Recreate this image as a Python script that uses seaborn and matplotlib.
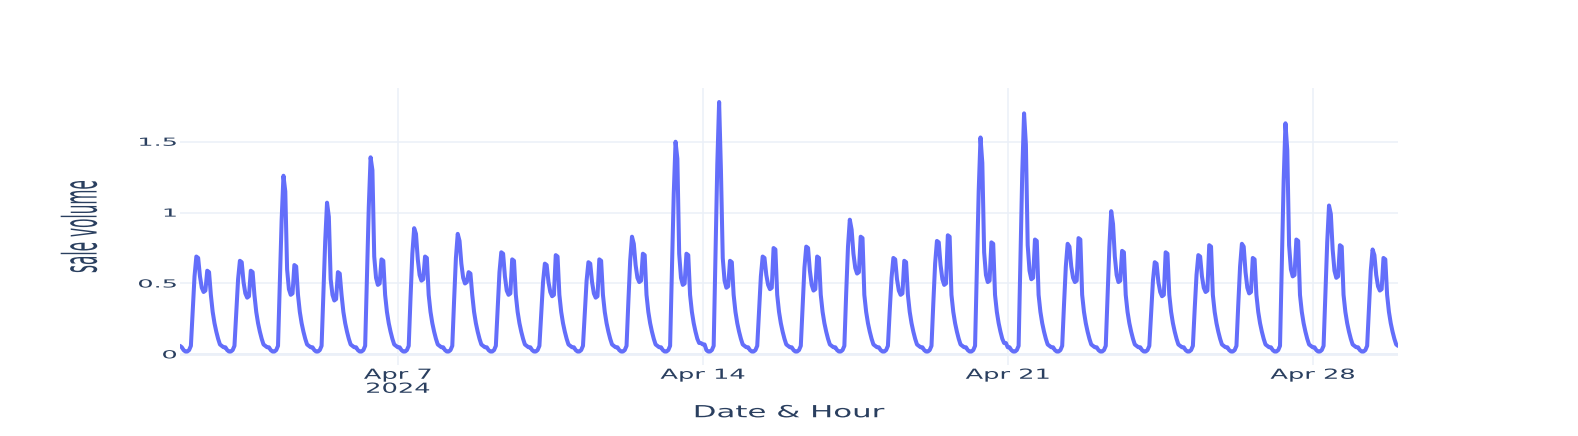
import pandas as pd
import matplotlib
matplotlib.use("Agg")
import matplotlib.pyplot as plt
from matplotlib.patheffects import AbstractPathEffect
from matplotlib.transforms import Affine2D
import seaborn as sns

# hourly sale volume, one list per day (00:00 .. 23:00)
apr02 = [0.06, 0.05, 0.03, 0.02, 0.02, 0.03, 0.06, 0.31, 0.55, 0.69, 0.68, 0.55, 0.47, 0.44, 0.45, 0.59, 0.58, 0.42, 0.30, 0.22, 0.16, 0.11, 0.07, 0.06]
apr03 = [0.05, 0.05, 0.03, 0.02, 0.02, 0.03, 0.06, 0.30, 0.53, 0.66, 0.65, 0.51, 0.43, 0.40, 0.41, 0.59, 0.58, 0.42, 0.30, 0.22, 0.16, 0.11, 0.07, 0.06]
apr04 = [0.05, 0.05, 0.03, 0.02, 0.02, 0.03, 0.06, 0.50, 0.95, 1.26, 1.15, 0.60, 0.46, 0.42, 0.43, 0.63, 0.62, 0.42, 0.30, 0.22, 0.16, 0.11, 0.07, 0.06]
apr05 = [0.05, 0.05, 0.03, 0.02, 0.02, 0.03, 0.06, 0.43, 0.80, 1.07, 0.97, 0.53, 0.42, 0.38, 0.39, 0.58, 0.57, 0.42, 0.30, 0.22, 0.16, 0.11, 0.07, 0.06]
apr06 = [0.05, 0.05, 0.03, 0.02, 0.02, 0.03, 0.06, 0.56, 1.04, 1.39, 1.30, 0.69, 0.54, 0.49, 0.50, 0.67, 0.66, 0.42, 0.30, 0.22, 0.16, 0.11, 0.07, 0.06]
apr07 = [0.05, 0.05, 0.03, 0.02, 0.02, 0.03, 0.06, 0.40, 0.71, 0.89, 0.85, 0.67, 0.56, 0.52, 0.53, 0.69, 0.68, 0.42, 0.30, 0.22, 0.16, 0.11, 0.07, 0.06]
apr08 = [0.05, 0.05, 0.03, 0.02, 0.02, 0.03, 0.06, 0.38, 0.68, 0.85, 0.80, 0.64, 0.54, 0.50, 0.51, 0.58, 0.57, 0.42, 0.30, 0.22, 0.16, 0.11, 0.07, 0.06]
apr09 = [0.05, 0.05, 0.03, 0.02, 0.02, 0.03, 0.06, 0.32, 0.58, 0.72, 0.71, 0.55, 0.45, 0.42, 0.43, 0.67, 0.66, 0.42, 0.30, 0.22, 0.16, 0.11, 0.07, 0.06]
apr10 = [0.05, 0.05, 0.03, 0.02, 0.02, 0.03, 0.06, 0.29, 0.51, 0.64, 0.63, 0.51, 0.44, 0.41, 0.42, 0.70, 0.69, 0.42, 0.30, 0.22, 0.16, 0.11, 0.07, 0.06]
apr11 = [0.05, 0.05, 0.03, 0.02, 0.02, 0.03, 0.06, 0.29, 0.52, 0.65, 0.64, 0.51, 0.43, 0.40, 0.41, 0.67, 0.66, 0.42, 0.30, 0.22, 0.16, 0.11, 0.07, 0.06]
apr12 = [0.05, 0.05, 0.03, 0.02, 0.02, 0.03, 0.06, 0.37, 0.66, 0.83, 0.78, 0.63, 0.54, 0.51, 0.52, 0.71, 0.70, 0.42, 0.30, 0.22, 0.16, 0.11, 0.07, 0.06]
apr13 = [0.05, 0.05, 0.03, 0.02, 0.02, 0.03, 0.06, 0.60, 1.13, 1.50, 1.38, 0.71, 0.54, 0.49, 0.50, 0.71, 0.70, 0.42, 0.30, 0.22, 0.16, 0.11, 0.08, 0.08]
apr14 = [0.07, 0.07, 0.03, 0.02, 0.02, 0.03, 0.06, 0.71, 1.34, 1.78, 1.30, 0.68, 0.52, 0.47, 0.48, 0.66, 0.65, 0.42, 0.30, 0.22, 0.16, 0.11, 0.07, 0.06]
apr15 = [0.05, 0.05, 0.03, 0.02, 0.02, 0.03, 0.06, 0.31, 0.55, 0.69, 0.68, 0.56, 0.49, 0.46, 0.47, 0.75, 0.74, 0.42, 0.30, 0.22, 0.16, 0.11, 0.07, 0.06]
apr16 = [0.05, 0.05, 0.03, 0.02, 0.02, 0.03, 0.06, 0.34, 0.61, 0.76, 0.75, 0.59, 0.49, 0.45, 0.46, 0.69, 0.68, 0.42, 0.30, 0.22, 0.16, 0.11, 0.07, 0.06]
apr17 = [0.05, 0.05, 0.03, 0.02, 0.02, 0.03, 0.06, 0.43, 0.76, 0.95, 0.88, 0.71, 0.61, 0.57, 0.58, 0.83, 0.82, 0.42, 0.30, 0.22, 0.16, 0.11, 0.07, 0.06]
apr18 = [0.05, 0.05, 0.03, 0.02, 0.02, 0.03, 0.06, 0.31, 0.54, 0.68, 0.67, 0.53, 0.45, 0.42, 0.43, 0.66, 0.65, 0.42, 0.30, 0.22, 0.16, 0.11, 0.07, 0.06]
apr19 = [0.05, 0.05, 0.03, 0.02, 0.02, 0.03, 0.06, 0.36, 0.64, 0.80, 0.79, 0.63, 0.53, 0.49, 0.50, 0.84, 0.83, 0.42, 0.30, 0.22, 0.16, 0.11, 0.07, 0.06]
apr20 = [0.05, 0.05, 0.03, 0.02, 0.02, 0.03, 0.06, 0.61, 1.15, 1.53, 1.35, 0.72, 0.56, 0.51, 0.52, 0.79, 0.78, 0.42, 0.30, 0.22, 0.16, 0.11, 0.08, 0.08]
apr21 = [0.05, 0.05, 0.03, 0.02, 0.02, 0.03, 0.06, 0.68, 1.28, 1.70, 1.48, 0.77, 0.59, 0.53, 0.54, 0.81, 0.80, 0.42, 0.30, 0.22, 0.16, 0.11, 0.07, 0.06]
apr22 = [0.05, 0.05, 0.03, 0.02, 0.02, 0.03, 0.06, 0.35, 0.62, 0.78, 0.76, 0.62, 0.54, 0.51, 0.52, 0.82, 0.81, 0.42, 0.30, 0.22, 0.16, 0.11, 0.07, 0.06]
apr23 = [0.05, 0.05, 0.03, 0.02, 0.02, 0.03, 0.06, 0.40, 0.76, 1.01, 0.92, 0.69, 0.56, 0.51, 0.52, 0.73, 0.72, 0.42, 0.30, 0.22, 0.16, 0.11, 0.07, 0.06]
apr24 = [0.05, 0.05, 0.03, 0.02, 0.02, 0.03, 0.06, 0.29, 0.52, 0.65, 0.64, 0.51, 0.44, 0.41, 0.42, 0.72, 0.71, 0.42, 0.30, 0.22, 0.16, 0.11, 0.07, 0.06]
apr25 = [0.05, 0.05, 0.03, 0.02, 0.02, 0.03, 0.06, 0.32, 0.56, 0.70, 0.69, 0.55, 0.47, 0.44, 0.45, 0.77, 0.76, 0.42, 0.30, 0.22, 0.16, 0.11, 0.07, 0.06]
apr26 = [0.05, 0.05, 0.03, 0.02, 0.02, 0.03, 0.06, 0.35, 0.62, 0.78, 0.76, 0.58, 0.47, 0.43, 0.44, 0.68, 0.67, 0.42, 0.30, 0.22, 0.16, 0.11, 0.07, 0.06]
apr27 = [0.05, 0.05, 0.03, 0.02, 0.02, 0.03, 0.06, 0.65, 1.22, 1.63, 1.44, 0.77, 0.60, 0.55, 0.56, 0.81, 0.80, 0.42, 0.30, 0.22, 0.16, 0.11, 0.07, 0.06]
apr28 = [0.05, 0.05, 0.03, 0.02, 0.02, 0.03, 0.06, 0.42, 0.79, 1.05, 0.99, 0.74, 0.59, 0.54, 0.55, 0.77, 0.76, 0.42, 0.30, 0.22, 0.16, 0.11, 0.07, 0.06]
apr29 = [0.05, 0.05, 0.03, 0.02, 0.02, 0.03, 0.06, 0.33, 0.59, 0.74, 0.70, 0.56, 0.48, 0.45, 0.46, 0.68, 0.67, 0.42, 0.30, 0.22, 0.16, 0.11, 0.07, 0.06]

days = [apr02, apr03, apr04, apr05, apr06, apr07, apr08, apr09, apr10, apr11,
        apr12, apr13, apr14, apr15, apr16, apr17, apr18, apr19, apr20, apr21,
        apr22, apr23, apr24, apr25, apr26, apr27, apr28, apr29]

x_ticks = ["2024-04-07", "2024-04-14", "2024-04-21", "2024-04-28"]
x_tick_labels = ["Apr 7\n2024", "Apr 14", "Apr 21", "Apr 28"]
y_ticks = [0, 0.5, 1, 1.5]
y_tick_labels = ["0", "0.5", "1", "1.5"]

volume = [v for day in days for v in day]
df = pd.DataFrame({
    "Date & Hour": pd.date_range("2024-04-02 00:00", periods=len(volume), freq="h"),
    "sale volume": volume,
})


class Stretch(AbstractPathEffect):
    """Scale glyphs along the text direction (the reference text is stretched)."""

    def __init__(self, sx, anchor="center"):
        super().__init__()
        self.sx = sx
        self.anchor = anchor

    def draw_path(self, renderer, gc, tpath, affine, rgbFace=None):
        ext = tpath.get_extents()
        if self.anchor == "right":
            cx = ext.x1
        elif self.anchor == "left":
            cx = ext.x0
        else:
            cx = (ext.x0 + ext.x1) / 2
        st = Affine2D().translate(-cx, 0).scale(self.sx, 1).translate(cx, 0)
        renderer.draw_path(gc, tpath, st + affine, rgbFace)


sns.set_style("white")
plt.rcParams["font.family"] = ["DejaVu Sans"]

grid_col = "#EBF0F8"
text_col = "#2a3f5f"

fig = plt.figure(figsize=(15.78, 4.36), dpi=100)
ax = fig.add_axes([180 / 1578, 1 - 365 / 436, 1218 / 1578, 277 / 436])

sns.lineplot(data=df, x="Date & Hour", y="sale volume", color="#636EFA",
             linewidth=2.9, ax=ax, zorder=3)
for line in ax.lines:
    line.set_solid_joinstyle("round")

ax.set_xlim(df["Date & Hour"].iloc[0], df["Date & Hour"].iloc[-1])
ax.set_ylim(-0.075, 1.879)

ax.set_xticks(pd.to_datetime(x_ticks))
ax.set_xticklabels(x_tick_labels, fontsize=10, color=text_col, linespacing=1.0)
ax.set_yticks(y_ticks)
ax.set_yticklabels(y_tick_labels, fontsize=8, color=text_col)
ax.tick_params(axis="both", length=0)
ax.tick_params(axis="x", pad=2)
ax.tick_params(axis="y", pad=2.4)
for lab in ax.get_xticklabels():
    lab.set_path_effects([Stretch(1.85)])
for lab in ax.get_yticklabels():
    lab.set_path_effects([Stretch(2.3, "right")])

ax.grid(True, color=grid_col, linewidth=1.1, zorder=0)
ax.axhline(0, color=grid_col, linewidth=2, zorder=1)
for s in ax.spines.values():
    s.set_visible(False)

ax.set_xlabel("Date & Hour", fontsize=12, color=text_col,
              path_effects=[Stretch(1.85)])
ax.xaxis.set_label_coords(0.5, -0.138)
ax.set_ylabel("sale volume", fontsize=34, color=text_col, va="baseline",
              path_effects=[Stretch(0.325)])
ax.yaxis.set_label_coords(-0.0685, 0.5)

fig.savefig("out.png", dpi=100, facecolor="white")
